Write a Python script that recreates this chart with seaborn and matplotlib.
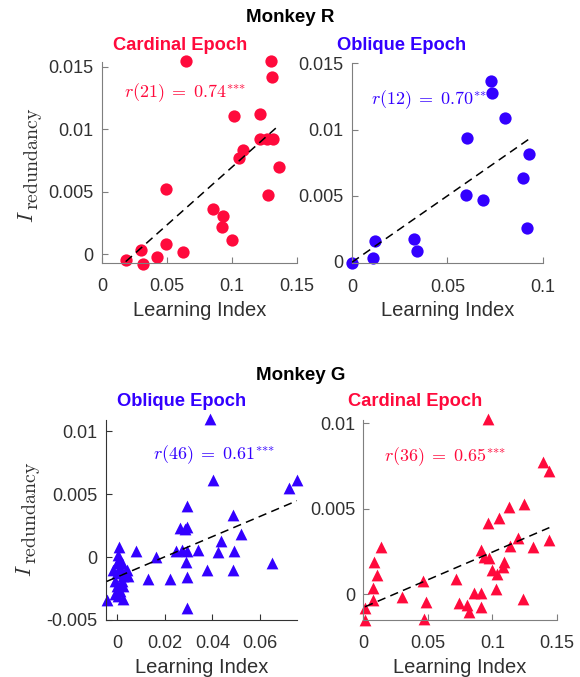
import matplotlib
matplotlib.use("Agg")
import matplotlib.pyplot as plt
import seaborn as sns
import pandas as pd
from matplotlib.ticker import FixedLocator, FixedFormatter

# Monkey R, cardinal epoch (circles)
card_r_x = [0.0644, 0.1300, 0.1305, 0.1015, 0.1215, 0.1215, 0.1272, 0.1318, 0.1087, 0.1056,
            0.1364, 0.0492, 0.1274, 0.0856, 0.0928, 0.0926, 0.1003, 0.0490, 0.0621, 0.0300,
            0.0426, 0.0313, 0.0182]
card_r_y = [0.01546, 0.01546, 0.01422, 0.01107, 0.01127, 0.00927, 0.00927, 0.00927, 0.00839, 0.00772,
            0.00696, 0.00521, 0.00476, 0.00366, 0.00306, 0.00215, 0.00113, 0.00086, 0.00022, 0.00032,
            -0.00019, -0.00075, -0.00043]

# Monkey R, oblique epoch (circles)
obl_r_x = [0.0000, 0.0112, 0.0119, 0.0327, 0.0339, 0.0601, 0.0598, 0.0685, 0.0731, 0.0733,
           0.0802, 0.0930, 0.0898, 0.0916]
obl_r_y = [-0.00010, 0.00030, 0.00161, 0.00177, 0.00081, 0.00940, 0.00505, 0.00465, 0.01366, 0.01273,
           0.01091, 0.00816, 0.00631, 0.00255]

# Monkey G, oblique epoch (triangles)
obl_g_x = [0.0390, 0.0403, 0.0723, 0.0756, 0.0292, 0.0263, 0.0292, 0.0283, 0.0487, 0.0518,
           0.0438, 0.0424, 0.0490, 0.0340, 0.0247, 0.0292, 0.0271, 0.0289, 0.0376, 0.0485,
           0.0649, 0.0292, 0.0221, 0.0130, 0.0161, 0.0077, 0.0294, -0.0045,
           0.0008, 0.0004, 0.0008, -0.0003, 0.0018, -0.0017, 0.0011, 0.0039, -0.0003, 0.0025,
           0.0046, -0.0010, 0.0018, -0.0003, 0.0025, 0.0004, 0.0025, 0.0011, -0.0010, 0.0032]
obl_g_y = [0.01100, 0.00612, 0.00546, 0.00612, 0.00406, 0.00234, 0.00242, 0.00220, 0.00335, 0.00182,
           0.00129, 0.00044, 0.00050, 0.00058, 0.00050, 0.00050, 0.00060, -0.00040, -0.00100, -0.00100,
           -0.00048, -0.00158, -0.00174, -0.00174, 0.00000, 0.00052, -0.00404, -0.00338,
           0.00079, 0.00018, -0.00021, -0.00048, -0.00048, -0.00106, -0.00087, -0.00106, -0.00127, -0.00153,
           -0.00153, -0.00193, -0.00193, -0.00232, -0.00232, -0.00312, -0.00332, -0.00272, -0.00290, -0.00120]

# Monkey G, cardinal epoch (triangles)
card_g_x = [0.0969, 0.1391, 0.1443, 0.1249, 0.1132, 0.1055, 0.0969, 0.1202, 0.1440, 0.1313,
            0.1137, 0.0912, 0.0935, 0.0974, 0.1093, 0.1081, 0.0995, 0.1039, 0.1029, 0.1241,
            0.0912, 0.0858, 0.0912, 0.0821, 0.0801, 0.0744, 0.0716, 0.0483, 0.0460, 0.0472,
            0.0297, 0.0134, 0.0084, 0.0102, 0.0071, 0.0071, 0.0012, 0.0012]
card_g_y = [0.01026, 0.00777, 0.00724, 0.00526, 0.00511, 0.00449, 0.00417, 0.00332, 0.00316, 0.00277,
            0.00283, 0.00262, 0.00219, 0.00210, 0.00190, 0.00161, 0.00142, 0.00122, 0.00029, -0.00027,
            0.00006, 0.00006, -0.00072, -0.00101, -0.00062, -0.00052, 0.00087, -0.00043, 0.00078, -0.00144,
            -0.00017, 0.00277, 0.00192, 0.00112, 0.00038, -0.00033, -0.00082, -0.00150]

stats_labels = [r"$r(21)\;=\;0.74^{{*}{*}{*}}$", r"$r(12)\;=\;0.70^{{*}{*}}$",
                r"$r(46)\;=\;0.61^{{*}{*}{*}}$", r"$r(36)\;=\;0.65^{{*}{*}{*}}$"]
panel_titles = ["Cardinal Epoch", "Oblique Epoch", "Oblique Epoch", "Cardinal Epoch"]
group_titles = ["Monkey R", "Monkey G"]

xticks_r_card = [0, 0.05, 0.1, 0.15]
xticklabels_r_card = ["0", "0.05", "0.1", "0.15"]
xticks_r_obl = [0, 0.05, 0.1]
xticklabels_r_obl = ["0", "0.05", "0.1"]
xticks_g_obl = [0, 0.02, 0.04, 0.06]
xticklabels_g_obl = ["0", "0.02", "0.04", "0.06"]
xticks_g_card = [0, 0.05, 0.1, 0.15]
xticklabels_g_card = ["0", "0.05", "0.1", "0.15"]
yticks_r = [0, 0.005, 0.01, 0.015]
yticklabels_r = ["0", "0.005", "0.01", "0.015"]
yticks_g_obl = [-0.005, 0, 0.005, 0.01]
yticklabels_g_obl = ["-0.005", "0", "0.005", "0.01"]
yticks_g_card = [0, 0.005, 0.01]
yticklabels_g_card = ["0", "0.005", "0.01"]

RED = "#FF0A3C"
BLUE = "#3300FF"
TEXT = "#303030"

sns.set_style("ticks")
plt.rcParams["font.family"] = ["Liberation Sans", "DejaVu Sans"]
plt.rcParams["mathtext.fontset"] = "cm"

W, H = 580, 677
fig = plt.figure(figsize=(W / 100, H / 100), dpi=100)


def px_axes(left, top, right, bottom):
    return fig.add_axes([left / W, 1 - bottom / H, (right - left) / W, (bottom - top) / H])


def fx(x):
    return x / W


def fy(y):
    return 1 - y / H


panels = [
    dict(rect=(102, 62, 297, 263), x=card_r_x, y=card_r_y, color=RED, marker="o", s=78,
         xlim=(0, 0.15), ylim=(-0.0007, 0.0154), xt=(xticks_r_card, xticklabels_r_card),
         yt=(yticks_r, yticklabels_r), stat=(124, 93), spine="#7f7f7f"),
    dict(rect=(352, 62.7, 542.7, 263.3), x=obl_r_x, y=obl_r_y, color=BLUE, marker="o", s=78,
         xlim=(0, 0.1), ylim=(-0.0001, 0.01505), xt=(xticks_r_obl, xticklabels_r_obl),
         yt=(yticks_r, yticklabels_r), stat=(371, 100), spine="#7f7f7f"),
    dict(rect=(106, 420, 297.3, 620), x=obl_g_x, y=obl_g_y, color=BLUE, marker="^", s=72,
         xlim=(-0.0048, 0.0757), ylim=(-0.005, 0.0109), xt=(xticks_g_obl, xticklabels_g_obl),
         yt=(yticks_g_obl, yticklabels_g_obl), stat=(153, 455), spine="#333333"),
    dict(rect=(363.5, 420, 556.7, 620), x=card_g_x, y=card_g_y, color=RED, marker="^", s=72,
         xlim=(0, 0.15), ylim=(-0.0015, 0.0102), xt=(xticks_g_card, xticklabels_g_card),
         yt=(yticks_g_card, yticklabels_g_card), stat=(384, 457), spine="#7f7f7f"),
]

for i, p in enumerate(panels):
    ax = px_axes(*p["rect"])
    df = pd.DataFrame({"li": p["x"], "ir": p["y"]})
    sns.regplot(data=df, x="li", y="ir", scatter=False, ci=None, truncate=True, ax=ax,
                line_kws=dict(color="black", lw=1.1, linestyle=(0, (5.5, 3.5)), zorder=3))
    sns.scatterplot(data=df, x="li", y="ir", color=p["color"], marker=p["marker"], s=p["s"],
                    linewidth=0, ax=ax, clip_on=False, zorder=2)
    ax.set_xlim(*p["xlim"])
    ax.set_ylim(*p["ylim"])
    ax.xaxis.set_major_locator(FixedLocator(p["xt"][0]))
    ax.xaxis.set_major_formatter(FixedFormatter(p["xt"][1]))
    ax.yaxis.set_major_locator(FixedLocator(p["yt"][0]))
    ax.yaxis.set_major_formatter(FixedFormatter(p["yt"][1]))
    for side in ("top", "right"):
        ax.spines[side].set_visible(False)
    for side in ("left", "bottom"):
        ax.spines[side].set_color(p["spine"])
        ax.spines[side].set_linewidth(0.8)
    ax.tick_params(direction="in", length=4, width=0.8, color=p["spine"],
                   labelcolor=TEXT, labelsize=13)
    ax.tick_params(axis="x", pad=11)
    ax.tick_params(axis="y", pad=6)
    ax.set_xlabel("Learning Index", fontsize=14.5, color=TEXT, labelpad=4)
    ax.set_ylabel("")
    ax.patch.set_alpha(0)
    sx, sy = p["stat"]
    fig.text(fx(sx), fy(sy), stats_labels[i], color=p["color"], fontsize=13,
             ha="left", va="center")

# Epoch titles and group headers
title_pos = [(180, 45), (402, 45), (182, 402), (415, 402)]
title_cols = [RED, BLUE, BLUE, RED]
for t, (tx, ty), c in zip(panel_titles, title_pos, title_cols):
    fig.text(fx(tx), fy(ty), t, color=c, fontsize=13.2, fontweight="bold",
             ha="center", va="center")
fig.text(fx(290), fy(18), group_titles[0], fontsize=13.5, fontweight="bold",
         ha="center", va="center", color="black")
fig.text(fx(301), fy(375), group_titles[1], fontsize=13.5, fontweight="bold",
         ha="center", va="center", color="black")

# y-axis labels: italic I with a roman subscript, written bottom-to-top
for (ix, iy, sx, sy) in [(33, 223, 37.5, 210), (31, 577, 35.5, 564)]:
    fig.text(fx(ix), fy(iy), r"$I$", fontsize=15.5, rotation=90, rotation_mode="anchor",
             ha="left", va="baseline", color=TEXT)
    fig.text(fx(sx), fy(sy), r"$\mathrm{redundancy}$", fontsize=14.3, rotation=90,
             rotation_mode="anchor", ha="left", va="baseline", color=TEXT)

fig.savefig("out.png", dpi=100)
